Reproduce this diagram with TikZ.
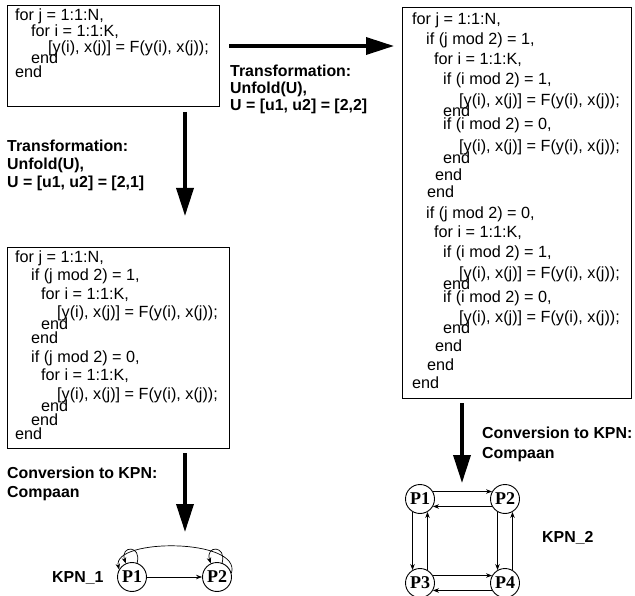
\documentclass[tikz,border=0pt]{standalone}
\usepackage{fontspec}
\setmainfont{Liberation Sans}
\newfontfamily\serifb{Liberation Serif}
\usetikzlibrary{arrows.meta}
\begin{document}
\begin{tikzpicture}[x=1pt,y=-1pt,
  codebox/.style={draw, line width=0.9pt, inner sep=0pt, anchor=north west},
  codeline/.style={anchor=base west, inner sep=0pt, font=\fontsize{16.2}{18}\selectfont},
  lab/.style={anchor=base west, inner sep=0pt, font=\fontsize{15.9}{18}\selectfont\bfseries},
  bigarrow/.style={line width=3.5pt, -{Triangle[length=28pt,width=17pt]}},
  proc/.style={circle, draw, line width=0.9pt, minimum size=29pt, inner sep=0pt, font=\fontsize{18}{18}\selectfont\serifb\bfseries},
  kedge/.style={line width=0.7pt, -{Stealth[length=6pt,width=4.5pt]}}
]
\useasboundingbox (0,0) rectangle (635,596);

% code boxes
\node[codebox, minimum width=212pt, minimum height=101pt] (box1) at (7,5) {};
\node[codebox, minimum width=222pt, minimum height=201pt] (box2) at (7,247) {};
\node[codebox, minimum width=229pt, minimum height=391pt] (box3) at (402,7) {};

% box 1 text
\foreach \xx/\yy/\txt [count=\k] in {
  15/16/{for j = 1:1:N,},
  31/32/{for i = 1:1:K,},
  48/48/{[y(i), x(j)] = F(y(i), x(j));},
  31/59/{end},
  15/73/{end}}
  \node[codeline] (a\k) at (\xx,\yy+4.5) {\txt};

% box 2 text
\foreach \xx/\yy/\txt [count=\k] in {
  15/258/{for j = 1:1:N,},
  31/276.5/{if (j mod 2) = 1,},
  41/295/{for i = 1:1:K,},
  57/313.5/{[y(i), x(j)] = F(y(i), x(j));},
  41/325.5/{end},
  31/339.5/{end},
  31/358/{if (j mod 2) = 0,},
  41/376.5/{for i = 1:1:K,},
  57/395/{[y(i), x(j)] = F(y(i), x(j));},
  41/407/{end},
  31/421/{end},
  15/435/{end}}
  \node[codeline] (b\k) at (\xx,\yy+4.5) {\txt};

% box 3 text
\foreach \xx/\yy/\txt [count=\k] in {
  412/20/{for j = 1:1:N,},
  426/40/{if (j mod 2) = 1,},
  434/60/{for i = 1:1:K,},
  443/80/{if (i mod 2) = 1,},
  459/101/{[y(i), x(j)] = F(y(i), x(j));},
  443/112/{end},
  443/125/{if (i mod 2) = 0,},
  459/147/{[y(i), x(j)] = F(y(i), x(j));},
  443/159/{end},
  435/176/{end},
  427/193/{end},
  426/214/{if (j mod 2) = 0,},
  434/233/{for i = 1:1:K,},
  443/253/{if (i mod 2) = 1,},
  459/274/{[y(i), x(j)] = F(y(i), x(j));},
  443/285/{end},
  443/298/{if (i mod 2) = 0,},
  459/318/{[y(i), x(j)] = F(y(i), x(j));},
  443/329/{end},
  435/347/{end},
  427/366/{end},
  412/384/{end}}
  \node[codeline] (c\k) at (\xx,\yy+4.5) {\txt};

% big arrows
\coordinate (h1) at (229,46);  \coordinate (h2) at (394,46);
\coordinate (v1a) at (185,112); \coordinate (v1b) at (185,216);
\coordinate (v2a) at (185,453); \coordinate (v2b) at (185,532);
\coordinate (v3a) at (462,403); \coordinate (v3b) at (462,483);
\draw[bigarrow] (h1) -- (h2);
\draw[bigarrow] (v1a) -- (v1b);
\draw[bigarrow] (v2a) -- (v2b);
\draw[bigarrow] (v3a) -- (v3b);

% labels
\node[lab] (t1) at (230,77) {Transformation:};
\node[lab] (t2) at (230,94) {Unfold(U),};
\node[lab] (t3) at (230,111) {U = [u1, u2] = [2,2]};
\node[lab] (s1) at (7,152) {Transformation:};
\node[lab] (s2) at (7,170) {Unfold(U),};
\node[lab] (s3) at (7,188) {U = [u1, u2] = [2,1]};
\node[lab] (k1) at (7,478) {Conversion to KPN:};
\node[lab] (k2) at (7,497) {Compaan};
\node[lab] (r1) at (482,438) {Conversion to KPN:};
\node[lab] (r2) at (482,458) {Compaan};
\node[lab] (n1) at (52,582.5) {KPN\_1};
\node[lab] (n2) at (542,542.5) {KPN\_2};

% KPN_1
\node[proc] (p1) at (132,577) {P1};
\node[proc] (p2) at (217,577) {P2};
\draw[kedge] (p1) -- (p2);
\draw[kedge] (p1.70) .. controls (142,545) and (120,545) .. (p1.115);
\draw[kedge] (p2.70) .. controls (227,545) and (205,545) .. (p2.115);
\draw[kedge] (p2.15) .. controls (242,538) and (112,538) .. (p1.150);

% KPN_2
\node[proc] (q1) at (420,499) {P1};
\node[proc] (q2) at (505,499) {P2};
\node[proc] (q3) at (420,583) {P3};
\node[proc] (q4) at (505,583) {P4};
\draw[kedge] (q1.30) -- (q2.150);
\draw[kedge] (q2.-150) -- (q1.-30);
\draw[kedge] (q1.-120) -- (q3.120);
\draw[kedge] (q3.60) -- (q1.-60);
\draw[kedge] (q2.-120) -- (q4.120);
\draw[kedge] (q4.60) -- (q2.-60);
\draw[kedge] (q3.30) -- (q4.150);
\draw[kedge] (q4.-150) -- (q3.-30);
\end{tikzpicture}
\end{document}
